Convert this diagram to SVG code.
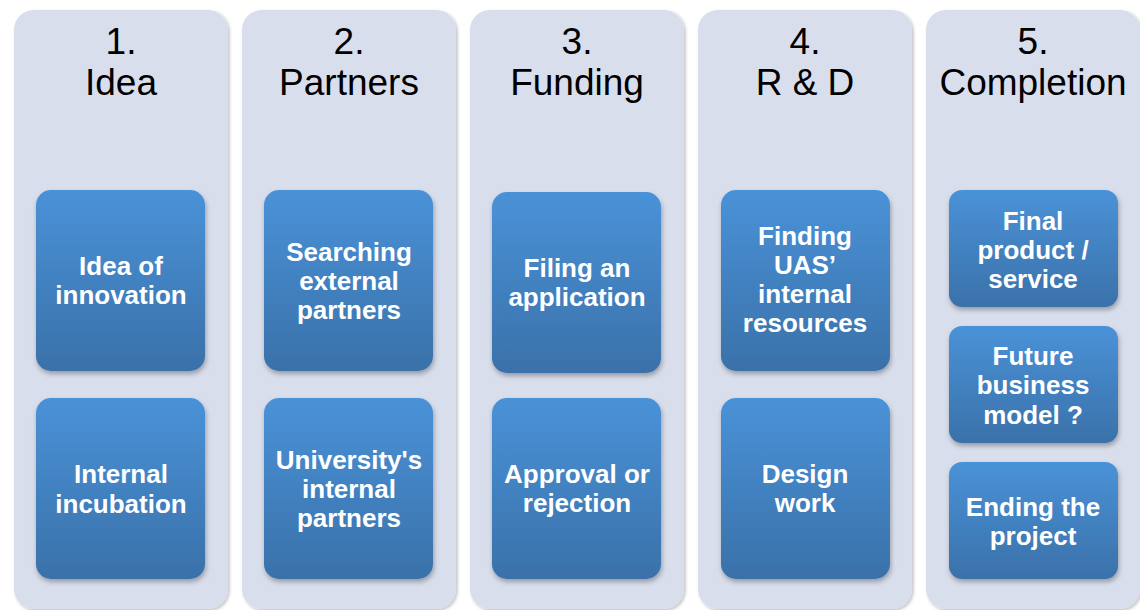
<svg xmlns="http://www.w3.org/2000/svg" width="1140" height="610" viewBox="0 0 1140 610">
<defs>
<linearGradient id="bg" x1="0" y1="0" x2="0" y2="1">
<stop offset="0" stop-color="#4a92d8"/>
<stop offset="1" stop-color="#3a71a9"/>
</linearGradient>
<filter id="sh" x="-10%" y="-10%" width="125%" height="125%">
<feDropShadow dx="1" dy="3" stdDeviation="2.5" flood-color="#000" flood-opacity="0.3"/>
</filter>
<filter id="csh" x="-5%" y="-5%" width="110%" height="110%">
<feDropShadow dx="1.5" dy="1.5" stdDeviation="1.5" flood-color="#000" flood-opacity="0.25"/>
</filter>
</defs>
<style>
.col{fill:#d9deec;filter:url(#csh)}
.box{fill:url(#bg);filter:url(#sh)}
.title{font-family:"Liberation Sans",Arial,sans-serif;font-size:37px;fill:#000;text-anchor:middle}
.lbl{font-family:"Liberation Sans",Arial,sans-serif;font-size:26px;font-weight:bold;fill:#fff;text-anchor:middle}
</style>
<rect width="1140" height="610" fill="#fff"/>
<g id="col1">
<rect class="col" x="14" y="10" width="214" height="599" rx="20"/>
<text class="title" x="121" y="54">1.</text>
<text class="title" x="121" y="95">Idea</text>
</g>
<g id="col2">
<rect class="col" x="242" y="10" width="214" height="599" rx="20"/>
<text class="title" x="349" y="54">2.</text>
<text class="title" x="349" y="95">Partners</text>
</g>
<g id="col3">
<rect class="col" x="470" y="10" width="214" height="599" rx="20"/>
<text class="title" x="577" y="54">3.</text>
<text class="title" x="577" y="95">Funding</text>
</g>
<g id="col4">
<rect class="col" x="698" y="10" width="214" height="599" rx="20"/>
<text class="title" x="805" y="54">4.</text>
<text class="title" x="805" y="95">R &amp; D</text>
</g>
<g id="col5">
<rect class="col" x="926" y="10" width="214" height="599" rx="20"/>
<text class="title" x="1033" y="54">5.</text>
<text class="title" x="1033" y="95">Completion</text>
</g>
<g id="connectors"></g>
<g id="n1a">
<rect class="box" x="36" y="190" width="169" height="181" rx="15"/>
<text class="lbl" x="121" y="275">Idea of</text>
<text class="lbl" x="121" y="304">innovation</text>
</g>
<g id="n1b">
<rect class="box" x="36" y="398" width="169" height="181" rx="15"/>
<text class="lbl" x="121" y="483">Internal</text>
<text class="lbl" x="121" y="513">incubation</text>
</g>
<g id="n2a">
<rect class="box" x="264" y="190" width="169" height="181" rx="15"/>
<text class="lbl" x="349" y="261">Searching</text>
<text class="lbl" x="349" y="290">external</text>
<text class="lbl" x="349" y="319">partners</text>
</g>
<g id="n2b">
<rect class="box" x="264" y="398" width="169" height="181" rx="15"/>
<text class="lbl" x="349" y="469">University's</text>
<text class="lbl" x="349" y="498">internal</text>
<text class="lbl" x="349" y="527">partners</text>
</g>
<g id="n3a">
<rect class="box" x="492" y="192" width="169" height="181" rx="15"/>
<text class="lbl" x="577" y="277">Filing an</text>
<text class="lbl" x="577" y="306">application</text>
</g>
<g id="n3b">
<rect class="box" x="492" y="398" width="169" height="181" rx="15"/>
<text class="lbl" x="577" y="483">Approval or</text>
<text class="lbl" x="577" y="512">rejection</text>
</g>
<g id="n4a">
<rect class="box" x="721" y="190" width="169" height="181" rx="15"/>
<text class="lbl" x="805" y="245">Finding</text>
<text class="lbl" x="805" y="274">UAS’</text>
<text class="lbl" x="805" y="303">internal</text>
<text class="lbl" x="805" y="332">resources</text>
</g>
<g id="n4b">
<rect class="box" x="721" y="398" width="169" height="181" rx="15"/>
<text class="lbl" x="805" y="483">Design</text>
<text class="lbl" x="805" y="512">work</text>
</g>
<g id="n5a">
<rect class="box" x="949" y="190" width="169" height="117" rx="13"/>
<text class="lbl" x="1033" y="230">Final</text>
<text class="lbl" x="1033" y="259">product /</text>
<text class="lbl" x="1033" y="288">service</text>
</g>
<g id="n5b">
<rect class="box" x="949" y="326" width="169" height="117" rx="13"/>
<text class="lbl" x="1033" y="365">Future</text>
<text class="lbl" x="1033" y="394">business</text>
<text class="lbl" x="1033" y="424">model ?</text>
</g>
<g id="n5c">
<rect class="box" x="949" y="462" width="169" height="117" rx="13"/>
<text class="lbl" x="1033" y="516">Ending the</text>
<text class="lbl" x="1033" y="545">project</text>
</g>
</svg>
